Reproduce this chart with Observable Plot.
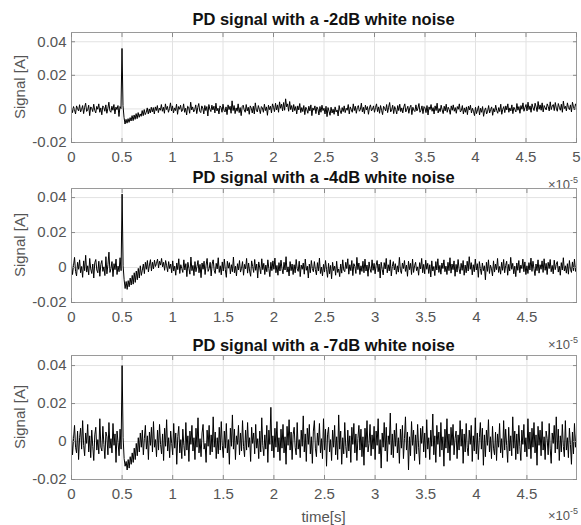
<!DOCTYPE html>
<html>
<head>
<meta charset="utf-8">
<script src="https://cdn.jsdelivr.net/npm/d3@7"></script>
<script src="https://cdn.jsdelivr.net/npm/@observablehq/plot@0.6"></script>
<style>
  html, body { margin: 0; padding: 0; background: #fff; }
  #fig { position: relative; width: 581px; height: 525px; background: #fff; font-family: "Liberation Sans", Arial, sans-serif; overflow: hidden; }
  .panel { position: absolute; left: 0; }
  .title { position: absolute; left: 71px; width: 505px; text-align: center; font-weight: bold; font-size: 16.5px; color: #111; line-height: 1; transform: translateY(-50%); white-space: nowrap; }
  .ylab { position: absolute; font-size: 15px; color: #555; line-height: 1; white-space: nowrap; transform: translate(-50%, -50%) rotate(-90deg); }
  .expo { position: absolute; right: 3px; font-size: 13px; color: #555; line-height: 1; transform: translateY(-50%); }
  .xlab { position: absolute; left: 71px; width: 505px; text-align: center; font-size: 15px; color: #555; line-height: 1; transform: translateY(-50%); }
</style>
</head>
<body>
<div id="fig"></div>
<script>
// ---- data (time in units of 1e-5 s, signal samples in units of 1e-4 A) ----
const titles = ["PD signal with a -2dB white noise", "PD signal with a -4dB white noise", "PD signal with a -7dB white noise"];
const yLabel = "Signal [A]";
const xLabel = "time[s]";
const yTicks = [-0.02, 0, 0.02, 0.04];
const xTicksFull = [0, 0.5, 1, 1.5, 2, 2.5, 3, 3.5, 4, 4.5, 5];
const xTicksShort = [0, 0.5, 1, 1.5, 2, 2.5, 3, 3.5, 4, 4.5];
const sampleStep = 0.01;   // sampling interval (×1e-5 s)
const valueUnit = 1e-4;    // samples below are in 1e-4 A

const noise2dB = [
  8,-22,14,-5,-30,18,2,-12,25,-18,
  -3,20,-28,10,34,-15,-6,22,-40,12,
  5,-16,28,-8,-24,15,-2,30,-20,6,
  -35,18,9,-14,24,-26,3,40,-12,-20,
  16,-8,26,-30,11,-4,20,-45,14,2,
  360,20,-50,-90,-62,-85,-58,-80,-52,-72,
  -40,-70,-36,-62,-28,-58,-22,-50,-30,-44,
  -10,-40,-4,-34,-20,6,-30,0,-24,10,
  -18,8,-30,12,-10,20,-22,5,-8,26,
  -14,10,-26,30,-4,15,-20,2,36,-12,
  18,-24,6,-10,28,-32,14,-2,22,-16,
  -8,30,-20,4,-36,16,10,-26,40,-6,
  12,-18,-4,24,-28,8,32,-14,-22,18,
  5,-30,20,-10,14,-42,26,-2,-16,22,
  -6,16,-24,34,-12,4,-30,18,10,-20,
  28,-8,-18,12,-34,24,-4,16,-26,48,
  -10,20,-28,6,-14,30,-22,8,-40,14,
  22,-6,-20,26,-12,10,-32,18,4,-24,
  16,-30,36,-8,-18,20,-2,-28,14,6,
  -20,28,-10,12,-38,22,-4,16,-24,30,
  10,-16,34,-6,24,-20,42,4,28,-12,
  38,-8,60,12,30,-14,44,-4,20,-18,
  26,-10,14,-30,18,-6,32,-22,8,-16,
  20,-34,10,-4,-26,16,-12,24,-40,6,
  -8,18,-28,12,-2,-36,14,-20,22,-10,
  4,-30,16,-46,8,-14,-38,10,-24,-2,
  -32,12,-18,-6,-42,20,-12,-28,8,-16,
  18,-22,4,-8,26,-30,12,-4,-20,30,
  -10,16,-26,8,20,-14,-4,34,-18,10,
  -28,22,-6,14,-32,6,24,-12,-2,18,
  -20,8,30,-16,12,-26,20,-8,-34,16,
  4,-12,26,-22,10,38,-18,-6,22,-28,
  14,-4,-30,20,-10,28,-16,6,-24,12,
  30,-18,-2,16,-26,8,22,-34,10,-8,
  -16,24,-12,4,32,-20,-8,18,-28,14,
  6,-22,20,-36,12,-4,26,-14,8,-30,
  18,-10,34,-24,2,-16,22,-6,-28,16,
  -12,28,-20,10,-4,-32,18,-8,24,-14,
  8,-26,14,-2,30,-18,-10,20,-30,6,
  -20,12,-34,16,-6,22,-24,4,-14,-40,
  10,-28,-6,18,-36,4,-20,14,-44,-8,
  6,-30,-14,20,-24,-4,12,-38,2,-18,
  22,-10,-26,8,-16,28,-32,-2,14,-22,
  18,-6,30,-20,6,-12,24,-28,10,-4,
  -18,32,-8,14,-26,20,-2,36,-14,8,
  26,-12,40,-4,18,-20,30,6,-10,34,
  12,-16,44,-2,24,-8,36,-18,20,6,
  -6,30,14,-12,42,-4,18,26,-10,38,
  4,-14,32,10,-8,28,-20,46,2,16,
  -12,36,8,-4,24,-18,40,12,-6,30,
  14
];

const noise4dB = [
  25,-40,12,58,-22,-48,30,-10,44,-30,
  6,-56,38,-18,70,-26,10,-42,52,-8,
  -34,20,-60,28,46,-14,-30,36,-50,18,
  40,-22,4,-46,62,-36,16,88,-28,-6,
  34,-52,22,-12,48,-40,8,-24,56,-18,
  420,10,-70,-120,-80,-125,-75,-110,-60,-100,
  -45,-95,-30,-85,-20,-70,-5,-60,10,-45,
  -15,20,-35,30,-10,40,-25,15,45,-20,
  30,-8,42,6,24,48,-2,36,14,52,
  4,30,-16,40,10,-24,34,-6,20,-30,
  38,-20,8,-44,26,-12,50,-34,16,-6,
  -28,44,-14,22,-52,30,-4,-38,60,-18,
  12,-46,34,-24,6,40,-30,18,-58,26,
  -10,36,-40,14,52,-22,-6,30,-48,20,
  44,-16,-34,24,-8,56,-28,10,-42,32,
  -20,48,-12,-56,36,-4,28,-36,16,-24,
  60,-30,8,-48,22,-14,40,-26,-4,34,
  -44,18,-8,52,-32,26,-20,-50,38,6,
  -28,46,-16,20,-60,32,-2,-36,50,-12,
  24,-40,14,-24,44,-6,-52,30,-18,38,
  -10,54,-30,12,-44,28,-20,42,-8,-36,
  30,-14,62,-26,4,-48,34,-18,20,-40,
  16,-30,46,-8,-22,36,-52,14,-10,26,
  -38,48,-16,8,-60,20,-30,40,-6,-24,
  34,-12,-42,28,-20,54,-34,2,-48,18,
  -26,40,-10,-56,24,-36,12,-64,30,-18,
  8,-44,36,-28,-8,-52,20,-32,44,-14,
  -24,30,-6,50,-38,16,-18,40,-46,22,
  6,-34,58,-12,26,-40,10,-22,36,-30,
  48,-20,14,-50,32,-8,-28,44,-16,24,
  -36,12,40,-24,20,-60,30,-10,-42,28,
  -8,52,-30,16,-20,44,-48,6,34,-14,
  22,-38,10,-26,58,-16,-34,26,-6,40,
  -22,14,-50,36,-12,24,-40,48,-28,10,
  30,-18,4,-44,28,-8,52,-30,18,-36,
  42,-10,24,-34,16,-54,38,-20,6,-46,
  34,-14,50,-28,12,-38,26,-6,44,-24,
  8,-40,30,-18,56,-32,20,-12,38,-50,
  18,-26,46,-8,-36,24,-16,40,-44,14,
  -30,36,-20,62,-10,28,-42,16,-24,48,
  -14,22,-56,34,-6,-40,26,-18,10,-70,
  30,-22,44,-34,14,-8,-48,38,-26,20,
  -12,52,-28,6,-38,30,-16,46,-30,12,
  36,-44,18,-20,58,-10,24,-36,8,-52,
  26,-16,40,-30,14,-6,48,-24,32,-40,
  10,-34,28,-14,54,-22,36,-8,-46,20,
  -18,44,-32,16,-10,38,-28,50,-16,24,
  -40,30,-6,46,-24,12,-36,42,-12,18,
  34,-26,8,-44,28,-14,56,-20,10,-32,
  22,-38,40,-10,-28,32,-18,48,-22,14
];

const noise7dB = [
  40,-70,15,85,-30,-60,55,-95,20,70,
  -40,110,-20,-75,45,-10,90,-55,30,-85,
  60,-25,-100,35,75,-45,10,-65,120,-30,
  -50,80,-15,-90,50,25,-70,100,-35,15,
  -60,95,-20,40,-110,55,-5,-75,65,-40,
  400,20,-90,-130,-105,-150,-95,-140,-80,-120,
  -60,-110,-35,-95,-10,-75,20,-55,45,-30,
  60,-70,15,85,-40,30,-95,50,-20,75,
  -55,105,-30,10,-80,60,-45,90,-15,-65,
  40,-100,70,-25,115,-50,20,-85,55,-10,
  -70,95,-35,45,-120,25,80,-60,10,-90,
  65,-20,-75,100,-45,30,-105,55,-15,85,
  -50,20,-95,70,-30,125,-60,15,-80,45,
  90,-40,-10,-110,60,-25,85,-70,35,-55,
  130,-30,50,-90,20,-65,75,-45,105,-20,
  -85,55,-35,95,-60,10,-120,70,-25,140,
  -40,65,-95,30,-15,85,-70,45,-50,110,
  -25,-80,60,-45,100,-30,20,-105,75,-10,
  45,-65,90,-35,15,-90,55,-55,125,-20,
  -75,35,-40,85,-110,60,-15,180,-50,30,
  -85,70,-30,105,-55,20,-100,65,-35,90,
  -60,25,-120,80,-20,115,-45,50,-95,35,
  75,-30,-70,100,-40,10,-85,60,-25,135,
  -55,40,-105,70,-15,90,-65,25,-115,55,
  110,-35,-80,45,-20,95,-60,15,-90,120,
  -45,65,-130,35,75,-55,10,-100,60,-30,
  85,-70,25,-95,140,-40,55,-120,20,-65,
  100,-25,-85,60,-50,30,-110,75,-15,95,
  -60,40,-100,15,85,-45,65,-80,25,-125,
  70,-30,110,-55,-10,90,-75,35,-40,80,
  -95,55,-20,120,-65,10,-140,45,-30,100,
  -50,75,-105,30,-15,150,-70,40,-85,60,
  -25,95,-60,20,-115,65,-35,85,-90,15,
  130,-45,50,-150,25,-75,105,-20,60,-100,
  35,-65,90,-30,-120,70,-10,80,-55,45,
  -85,115,-40,20,-95,60,-25,145,-70,30,
  -110,85,-15,50,-80,100,-45,25,-130,65,
  -35,120,-60,40,-100,75,-20,90,-70,15,
  55,-90,35,-45,110,-25,65,-115,40,-55,
  95,-30,-75,60,-15,85,-105,30,-50,125,
  -65,45,-95,20,100,-40,70,-125,35,-80,
  60,-20,115,-55,25,-90,80,-35,-70,50,
  -100,40,-30,95,-60,15,-85,110,-45,65,
  -20,-110,75,-50,30,-75,130,-35,55,-95,
  40,-65,85,-25,-100,60,-15,90,-55,20,
  -80,120,-40,50,-90,70,-30,100,-60,35,
  -125,80,-20,60,-75,105,-45,25,-95,55,
  15,-70,95,-35,-115,45,-10,85,-60,130,
  -40,65,-100,30,-55,90,-25,-80,110,-45,
  20,-85,70,-15,-120,50,-65,95,-30,40
];

// ---- layout ----
const FONT = '"Liberation Sans", Arial, sans-serif';
const panels = [
  { series: noise2dB, top: 0,   height: 170, mt: 32, mb: 28, xmax: 5,    xticks: xTicksFull,  ymax: 0.0455, titleY: 19,  expoY: 183 },
  { series: noise4dB, top: 170, height: 170, mt: 18, mb: 38, xmax: 4.99, xticks: xTicksShort, ymax: 0.0452, titleY: 177, expoY: 343 },
  { series: noise7dB, top: 340, height: 185, mt: 15, mb: 46, xmax: 4.99, xticks: xTicksShort, ymax: 0.0453, titleY: 345, expoY: 514 }
];

const fig = document.getElementById("fig");

panels.forEach((p, k) => {
  const data = p.series.map((v, i) => ({ t: i * sampleStep, v: v * valueUnit }));
  const chart = Plot.plot({
    width: 581,
    height: p.height,
    marginLeft: 71,
    marginRight: 5,
    marginTop: p.mt,
    marginBottom: p.mb,
    style: { fontFamily: FONT, fontSize: "15px", color: "#555", background: "transparent", overflow: "visible" },
    x: { domain: [0, p.xmax] },
    y: { domain: [-0.02, p.ymax] },
    marks: [
      Plot.gridX(p.xticks, { stroke: "#e2e2e2", strokeOpacity: 1 }),
      Plot.gridY(yTicks, { stroke: "#e2e2e2", strokeOpacity: 1 }),
      Plot.line(data, { x: "t", y: "v", stroke: "#000", strokeWidth: 1 }),
      Plot.frame({ stroke: "#9a9a9a" }),
      Plot.axisX(p.xticks, { anchor: "bottom", tickSize: -4, text: null, stroke: "#8a8a8a", label: null }),
      Plot.axisX(p.xticks, { anchor: "top", tickSize: -4, text: null, stroke: "#8a8a8a", label: null }),
      Plot.axisY(yTicks, { anchor: "left", tickSize: -4, text: null, stroke: "#8a8a8a", label: null }),
      Plot.axisY(yTicks, { anchor: "right", tickSize: -4, text: null, stroke: "#8a8a8a", label: null }),
      Plot.axisX(p.xticks, { anchor: "bottom", tickSize: 0, tickPadding: 9, label: null, tickFormat: d => String(d), fill: "#555" }),
      Plot.axisY(yTicks, { anchor: "left", tickSize: 0, tickPadding: 5, label: null, tickFormat: d => String(d), fill: "#555" })
    ]
  });
  const wrap = document.createElement("div");
  wrap.className = "panel";
  wrap.style.top = p.top + "px";
  wrap.appendChild(chart);
  fig.appendChild(wrap);

  const title = document.createElement("div");
  title.className = "title";
  title.style.top = p.titleY + "px";
  title.textContent = titles[k];
  fig.appendChild(title);

  const yl = document.createElement("div");
  yl.className = "ylab";
  yl.style.left = "19px";
  yl.style.top = (p.top + p.mt + (p.height - p.mt - p.mb) / 2) + "px";
  yl.textContent = yLabel;
  fig.appendChild(yl);

  const ex = document.createElement("div");
  ex.className = "expo";
  ex.style.top = p.expoY + "px";
  ex.innerHTML = "×10<sup style='font-size:9px;vertical-align:6px'>-5</sup>";
  fig.appendChild(ex);
});

const xl = document.createElement("div");
xl.className = "xlab";
xl.style.top = "516px";
xl.textContent = xLabel;
fig.appendChild(xl);
</script>
</body>
</html>
